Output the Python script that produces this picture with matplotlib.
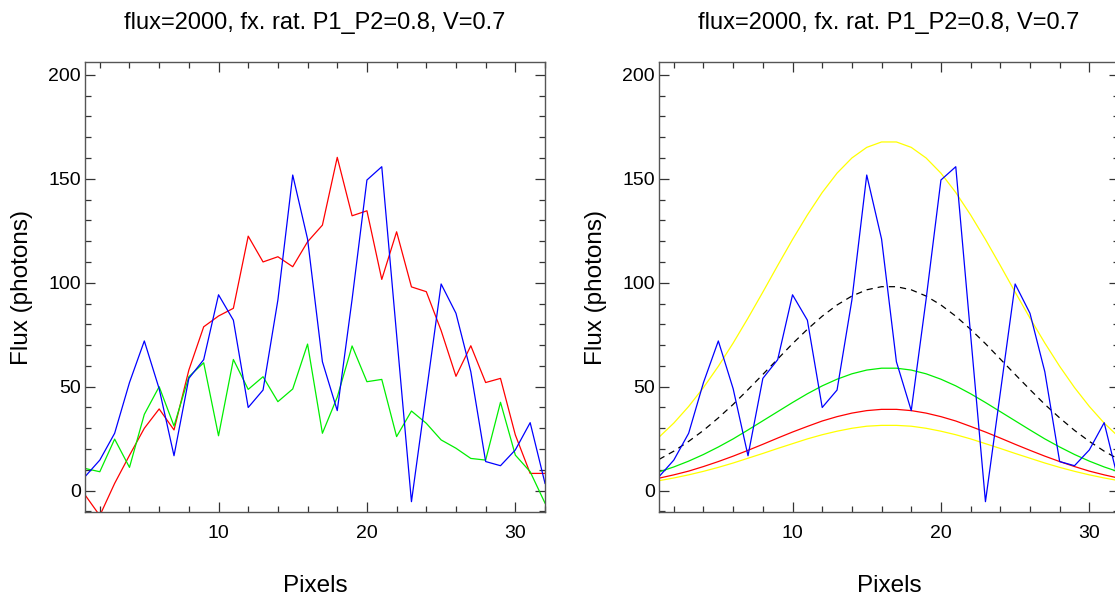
import numpy as np
import matplotlib.pyplot as plt
from matplotlib.ticker import MultipleLocator

plt.rcParams['font.family'] = ['Liberation Sans', 'DejaVu Sans']

# pixel index
pixels = np.arange(1, 33)

# left panel: measured profiles
obs_blue = [6.7, 14.7, 27.6, 52, 72, 49, 16.8, 54, 63, 94.2, 82, 40, 48.4, 91.7, 151.8, 121,
            62, 38.5, 92, 149.4, 155.8, 75, -5.3, 47, 99.4, 85.3, 57.2, 14, 12, 19.6, 32.7, 3.5]
obs_red = [-2, -12, 3.5, 17, 30, 39.3, 29.2, 58, 78.8, 84, 87.7, 122.4, 110, 112.5, 107.7, 119.7,
           127.7, 160.3, 132.2, 134.6, 101.6, 124.5, 98, 95.7, 77, 55, 69.7, 52, 54, 26.8, 8.3, 8.3]
obs_green = [10.7, 9.1, 24.8, 11.2, 36.7, 50, 31.1, 54.8, 61.5, 26.4, 63.1, 48.7, 54.8, 42.8, 48.9, 70.5,
             27.6, 45, 69.6, 52.4, 53.5, 26, 38.3, 32.4, 24.4, 20.4, 15.5, 14.7, 42.5, 17.1, 9.1, -6]

# right panel: model profiles (left half, mirrored about pixel 16.5)
half_upper = [25.7, 32.5, 40.5, 49.6, 59.8, 71.0, 83.0, 95.5, 108.3, 120.8, 132.6, 143.4, 152.7, 160.0, 165.1, 167.7]
half_mean = [15.0, 19.0, 23.7, 29.0, 35.0, 41.5, 48.6, 55.9, 63.3, 70.7, 77.6, 83.9, 89.3, 93.6, 96.6, 98.1]
half_green = [9.0, 11.4, 14.2, 17.4, 21.0, 24.9, 29.2, 33.6, 38.0, 42.4, 46.6, 50.4, 53.6, 56.2, 58.0, 58.9]
half_red = [6.0, 7.6, 9.4, 11.6, 14.0, 16.6, 19.4, 22.3, 25.3, 28.2, 30.9, 33.5, 35.6, 37.3, 38.5, 39.1]
half_lower = [4.8, 6.1, 7.6, 9.3, 11.2, 13.3, 15.6, 17.9, 20.3, 22.6, 24.9, 26.9, 28.6, 30.0, 31.0, 31.4]

model_upper = half_upper + half_upper[::-1]
model_mean = half_mean + half_mean[::-1]
model_green = half_green + half_green[::-1]
model_red = half_red + half_red[::-1]
model_lower = half_lower + half_lower[::-1]

title = 'flux=2000, fx. rat. P1_P2=0.8, V=0.7'

fig = plt.figure(figsize=(11.15, 5.97), dpi=100)
ax1 = fig.add_axes([0.0762, 0.1419, 0.4126, 0.7537])
ax2 = fig.add_axes([0.591, 0.1419, 0.4126, 0.7537])

lw = 0.9
ax1.plot(pixels, obs_red, color='#ff0000', lw=lw)
ax1.plot(pixels, obs_green, color='#00ee00', lw=lw)
ax1.plot(pixels, obs_blue, color='#0000ff', lw=lw)

ax2.plot(pixels, model_upper, color='#ffff00', lw=lw)
ax2.plot(pixels, model_lower, color='#ffff00', lw=lw)
ax2.plot(pixels, model_green, color='#00ee00', lw=lw)
ax2.plot(pixels, model_red, color='#ff0000', lw=lw)
ax2.plot(pixels, model_mean, color='black', lw=lw, ls=(0, (5, 4)))
ax2.plot(pixels, obs_blue, color='#0000ff', lw=lw)

for ax in (ax1, ax2):
    ax.set_xlim(1, 32)
    ax.set_ylim(-10.4, 206)
    ax.xaxis.set_major_locator(MultipleLocator(10))
    ax.xaxis.set_minor_locator(MultipleLocator(2))
    ax.yaxis.set_major_locator(MultipleLocator(50))
    ax.yaxis.set_minor_locator(MultipleLocator(10))
    ax.tick_params(which='both', direction='in', top=True, right=True,
                   color='#333333', labelsize=14)
    ax.tick_params(axis='x', which='both', pad=9)
    ax.tick_params(axis='y', which='both', pad=3)
    ax.tick_params(which='major', length=7, width=0.9)
    ax.tick_params(which='minor', length=4.5, width=0.9)
    for s in ax.spines.values():
        s.set_color('#555555')
        s.set_linewidth(1.0)
    ax.set_title(title, fontsize=17, pad=24)
    ax.set_xlabel('Pixels', fontsize=17.5, labelpad=24)
    ax.set_ylabel('Flux (photons)', fontsize=17.5, labelpad=11)

fig.savefig('out.png', dpi=100)
